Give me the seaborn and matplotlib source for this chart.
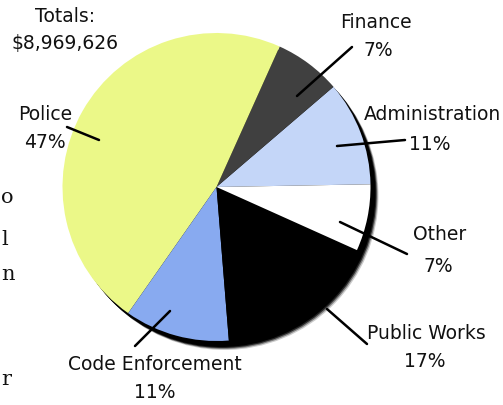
import numpy as np
import seaborn as sns
import matplotlib
matplotlib.use("Agg")
import matplotlib.pyplot as plt
from matplotlib.patches import Circle

sns.set_theme(style="white")
plt.rcParams["font.family"] = ["DejaVu Sans"]

# Veriler (saat yönünün tersine, 0 dereceden başlayarak)
departments = ["Administration", "Finance", "Police", "Code Enforcement", "Public Works", "Other"]
shares = [11, 7, 47, 11, 17, 7]
colors = ["#C4D6F8", "#404040", "#EBF888", "#88AAF0", "#000000", "#FFFFFF"]
total_label = "$8,969,626"

W, H = 503, 406
fig = plt.figure(figsize=(W / 100, H / 100), dpi=100)
ax = fig.add_axes([0, 0, 1, 1])

cx, cy, r = 216.5, H - 188, 154

# gölge (sağ alt tarafta bulanık siyah kenar)
for dx, dy, a in [(8, -9, 0.2), (7, -8, 0.4), (6, -7, 0.7), (5, -6, 1.0)]:
    ax.add_patch(Circle((cx + dx, cy + dy), r, color="black", alpha=a, lw=0, zorder=1))

wedges, _ = ax.pie(shares, colors=colors, startangle=1, counterclock=True,
                   center=(cx, cy), radius=r, frame=True,
                   wedgeprops=dict(linewidth=0))
for w in wedges:
    w.set_zorder(2)
ax.set_xlim(0, W)
ax.set_ylim(0, H)
ax.set_aspect("equal")
ax.axis("off")

fs = 13.5
# etiketler: (isim konumu, yüzde konumu, çizgi)
labels = {
    "Police": ((45, 114), (45, 143), [(67, 128), (99, 141)]),
    "Finance": ((376, 22), (378, 50), [(352, 48), (297, 97)]),
    "Administration": ((432, 115), (430, 145), [(405, 141), (337, 147)]),
    "Other": ((440, 235), (438, 267), [(407, 255), (340, 223)]),
    "Public Works": ((426, 334), (425, 362), [(367, 345), (327, 310)]),
    "Code Enforcement": ((155, 365), (155, 393), [(135, 347), (170, 312)]),
}
for name, pct in zip(departments, shares):
    (nx, ny), (px, py), line = labels[name]
    ax.text(nx, H - ny, name, ha="center", va="center", fontsize=fs, color="#111111", zorder=5)
    ax.text(px, H - py, f"{pct}%", ha="center", va="center", fontsize=fs, color="#111111", zorder=5)
    (x1, y1), (x2, y2) = line
    ax.plot([x1, x2], [H - y1, H - y2], color="black", lw=1.8, zorder=4)

ax.text(65, H - 16, "Totals:", ha="center", va="center", fontsize=fs, color="#111111")
ax.text(65, H - 44, total_label, ha="center", va="center", fontsize=fs, color="#111111")

# sol kenardaki metin parçaları
for ch, y in zip(["o", "l", "n", "r"], [198, 240, 275, 380]):
    ax.text(1, H - y, ch, ha="left", va="center", fontsize=15, family="DejaVu Serif", color="#111111")

fig.savefig("out.png", dpi=100, facecolor="white")
